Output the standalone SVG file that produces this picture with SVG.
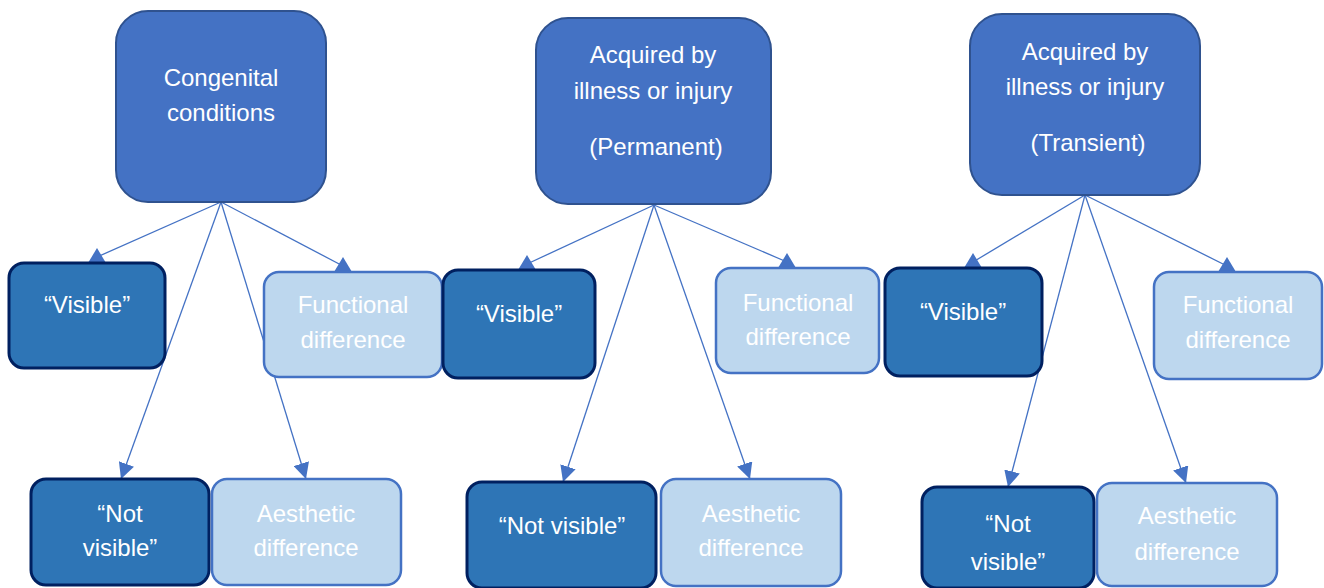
<svg xmlns="http://www.w3.org/2000/svg" width="1324" height="588" viewBox="0 0 1324 588">
<style>
.top{fill:#4472C4;stroke:#2F528F;stroke-width:2}
.dark{fill:#2E75B6;stroke:#002060;stroke-width:3}
.light{fill:#BDD7EE;stroke:#4472C4;stroke-width:2.5}
.c{stroke:#4472C4;stroke-width:1.3;fill:none}
.dn{marker-end:url(#ad)}
.up{marker-end:url(#au)}
text{font-family:"Liberation Sans",Arial,sans-serif;font-size:24px;fill:#FFFFFF;text-anchor:middle}
</style>
<defs>
<marker id="ad" markerUnits="userSpaceOnUse" markerWidth="16" markerHeight="16" viewBox="0 0 16 16" refX="16" refY="8" orient="auto"><path d="M0,0 L16,8 L0,16 Z" fill="#4472C4"/></marker>
<marker id="au" markerUnits="userSpaceOnUse" markerWidth="18" markerHeight="16" viewBox="0 0 18 16" refX="9" refY="9" orient="0"><path d="M0,15 L18,15 L9,0 Z" fill="#4472C4"/></marker>
</defs>
<rect width="1324" height="588" fill="#FFFFFF"/>
<g id="connectors">
<line class="c up" x1="221" y1="202" x2="97" y2="257"/>
<line class="c up" x1="221" y1="202" x2="343" y2="266"/>
<line class="c dn" x1="221" y1="202" x2="121" y2="479"/>
<line class="c dn" x1="221" y1="202" x2="306" y2="479"/>
<line class="c up" x1="654" y1="205" x2="527" y2="264"/>
<line class="c up" x1="654" y1="205" x2="787" y2="262"/>
<line class="c dn" x1="654" y1="205" x2="563" y2="482"/>
<line class="c dn" x1="654" y1="205" x2="750" y2="479"/>
<line class="c up" x1="1085" y1="195" x2="973" y2="262"/>
<line class="c up" x1="1085" y1="195" x2="1227" y2="266"/>
<line class="c dn" x1="1085" y1="195" x2="1008" y2="487"/>
<line class="c dn" x1="1085" y1="195" x2="1186" y2="483"/>
</g>
<g id="congenital"><rect class="top" x="116" y="11" width="210" height="191" rx="32"/><text x="221" y="86">Congenital</text><text x="221" y="121">conditions</text></g>
<g id="visible1"><rect class="dark" x="9" y="263" width="156" height="105" rx="15"/><text x="87" y="313">“Visible”</text></g>
<g id="functional1"><rect class="light" x="264" y="272" width="178" height="105" rx="15"/><text x="353" y="313">Functional</text><text x="353" y="348">difference</text></g>
<g id="notvisible1"><rect class="dark" x="31" y="479" width="178" height="106" rx="15"/><text x="120" y="522">“Not</text><text x="120" y="556">visible”</text></g>
<g id="aesthetic1"><rect class="light" x="212" y="479" width="189" height="106" rx="15"/><text x="306" y="522">Aesthetic</text><text x="306" y="556">difference</text></g>
<g id="permanent"><rect class="top" x="536" y="18" width="235" height="186" rx="32"/><text x="653" y="63">Acquired by</text><text x="653" y="99">illness or injury</text><text x="656" y="155">(Permanent)</text></g>
<g id="visible2"><rect class="dark" x="443" y="270" width="152" height="108" rx="15"/><text x="519" y="322">“Visible”</text></g>
<g id="functional2"><rect class="light" x="716" y="268" width="163" height="105" rx="15"/><text x="798" y="311">Functional</text><text x="798" y="345">difference</text></g>
<g id="notvisible2"><rect class="dark" x="467" y="482" width="189" height="106" rx="15"/><text x="562" y="534">“Not visible”</text></g>
<g id="aesthetic2"><rect class="light" x="661" y="479" width="180" height="107" rx="15"/><text x="751" y="522">Aesthetic</text><text x="751" y="556">difference</text></g>
<g id="transient"><rect class="top" x="970" y="14" width="230" height="181" rx="32"/><text x="1085" y="60">Acquired by</text><text x="1085" y="95">illness or injury</text><text x="1088" y="151">(Transient)</text></g>
<g id="visible3"><rect class="dark" x="885" y="268" width="157" height="108" rx="15"/><text x="963" y="320">“Visible”</text></g>
<g id="functional3"><rect class="light" x="1154" y="272" width="168" height="107" rx="15"/><text x="1238" y="313">Functional</text><text x="1238" y="348">difference</text></g>
<g id="notvisible3"><rect class="dark" x="922" y="487" width="172" height="101" rx="15"/><text x="1008" y="532">“Not</text><text x="1008" y="570">visible”</text></g>
<g id="aesthetic3"><rect class="light" x="1097" y="483" width="180" height="103" rx="15"/><text x="1187" y="524">Aesthetic</text><text x="1187" y="560">difference</text></g>
</svg>
